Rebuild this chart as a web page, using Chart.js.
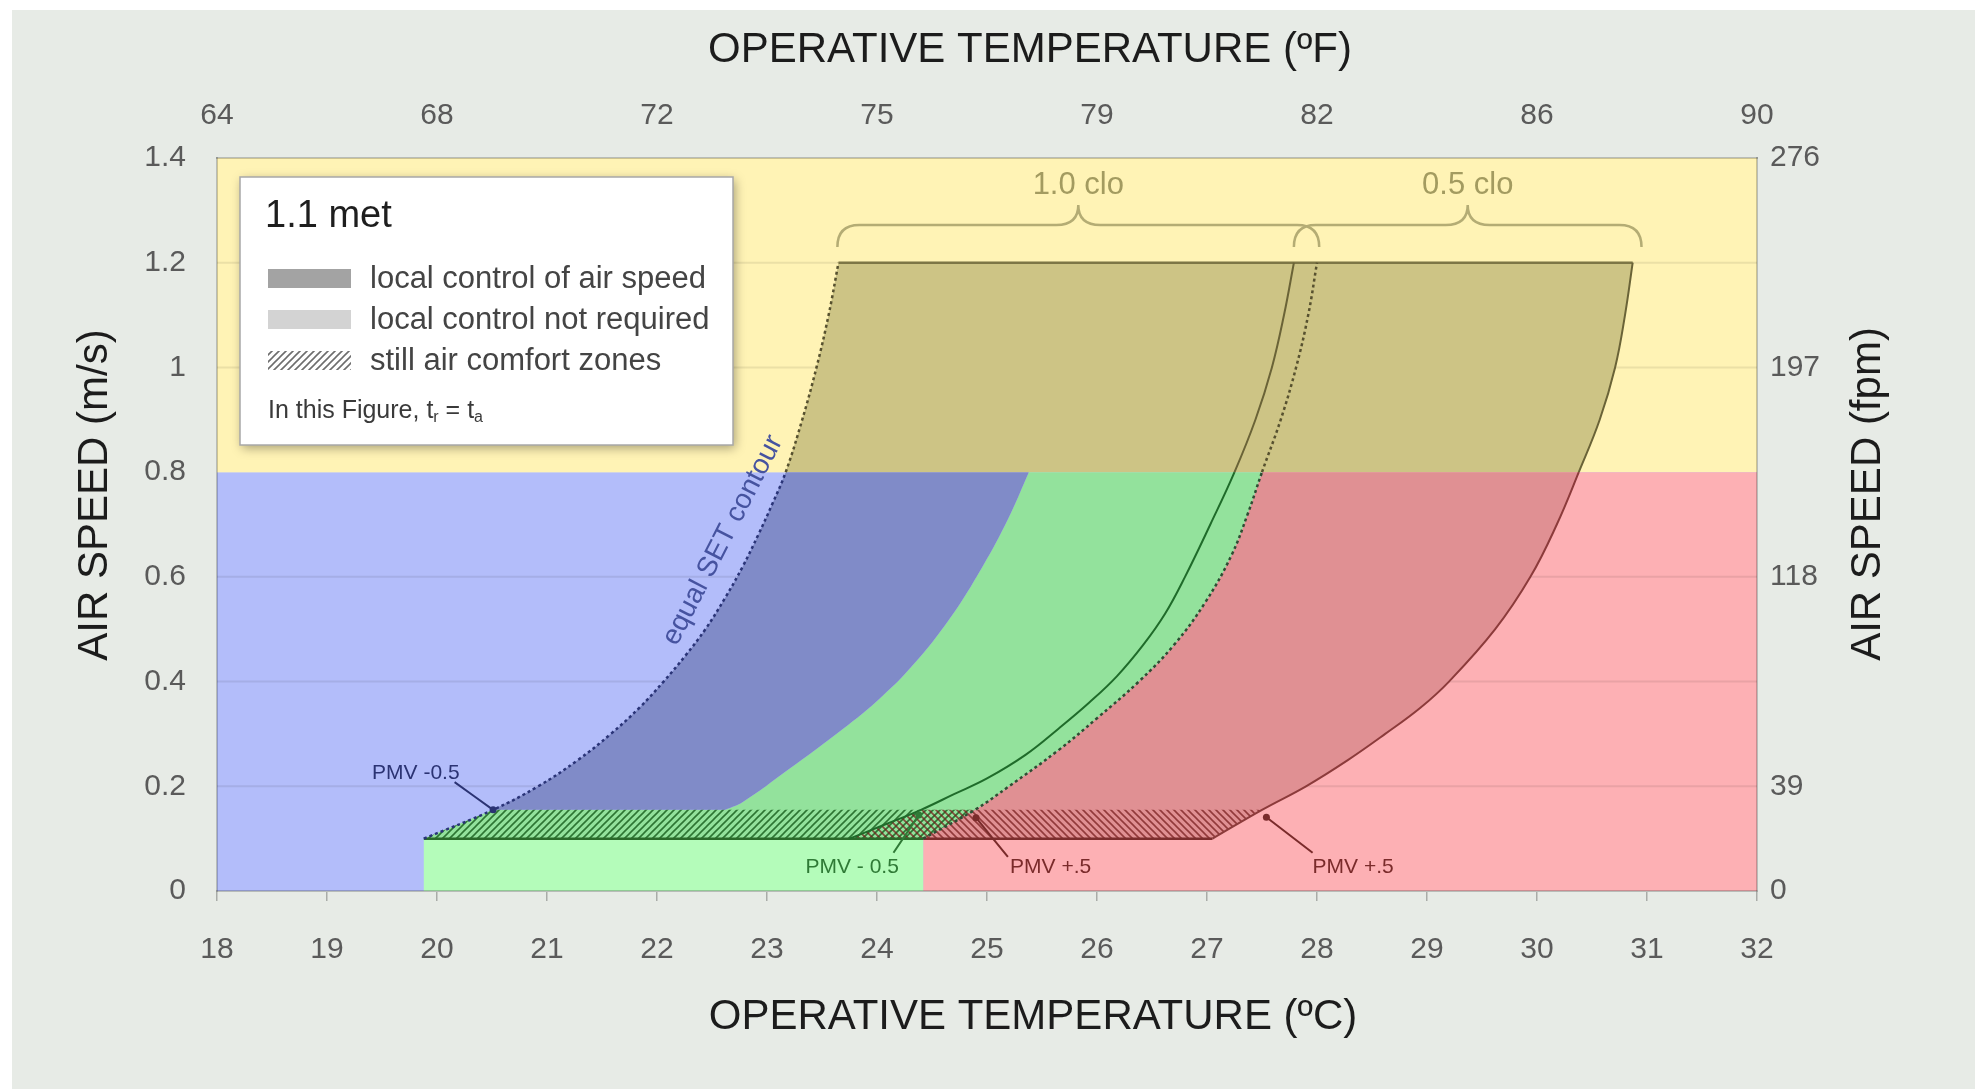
<!DOCTYPE html>
<html lang="en">
<head>
  <meta charset="UTF-8" />
  <title>Air speed comfort zones</title>
  <style>
    html, body { margin: 0; padding: 0; background: #fff; }
    canvas { display: block; }
  </style>
</head>
<body>
  <canvas id="chart" width="1982" height="1089"></canvas>

  <script src="https://cdn.jsdelivr.net/npm/chart.js"></script>
  <script>
    const FONT = "'Liberation Sans', Arial, Helvetica, sans-serif";
    Chart.defaults.font.family = FONT;

    // axes
    const tMin = 18, tMax = 32, vMax = 1.4;
    const tempTicksC = [18, 19, 20, 21, 22, 23, 24, 25, 26, 27, 28, 29, 30, 31, 32];
    const tempTicksF = [64, 68, 72, 75, 79, 82, 86, 90];
    const tempTicksFAtC = [18, 20, 22, 24, 26, 28, 30, 32];
    const speedTicks = [0, 0.2, 0.4, 0.6, 0.8, 1, 1.2, 1.4];
    const fpmTicks = [0, 39, 118, 197, 276];
    const fpmTicksAt = [0, 0.2, 0.6, 1, 1.4];
    const gridAt = [0.2, 0.4, 0.6, 1, 1.2];

    // air speed levels (m/s)
    const yellowFrom = 0.8;
    const stillLow = 0.1, stillTop = 0.155, maxAir = 1.2;

    // curves [temp ºC, air speed m/s]
    // 1.0 clo cool edge = equal SET contour
    const coolA = [[19.88, 0.1], [20.51, 0.155], [20.92, 0.2], [21.28, 0.25], [21.58, 0.3], [21.84, 0.35],
      [22.06, 0.4], [22.26, 0.45], [22.44, 0.5], [22.62, 0.56], [22.78, 0.62], [22.92, 0.68], [23.05, 0.74],
      [23.17, 0.8], [23.32, 0.9], [23.45, 1.0], [23.56, 1.1], [23.65, 1.2]];
    // PMV -0.5 line at 1.0 clo with elevated air speed (blue / green edge)
    const pmvEdge = [[22.62, 0.155], [22.78, 0.17], [23.2, 0.233], [23.63, 0.3], [24.0, 0.363], [24.32, 0.43],
      [24.66, 0.52], [24.96, 0.62], [25.19, 0.71], [25.38, 0.8]];
    // 0.5 clo cool edge
    const coolB = [[23.75, 0.1], [24.05, 0.125], [24.4, 0.155], [24.7, 0.185], [25.0, 0.215], [25.35, 0.26],
      [25.65, 0.31], [25.93, 0.36], [26.18, 0.41], [26.42, 0.47], [26.62, 0.53], [26.8, 0.6], [27.03, 0.7],
      [27.25, 0.8], [27.44, 0.9], [27.59, 1.0], [27.7, 1.1], [27.79, 1.2]];
    // 1.0 clo warm edge
    const warmC = [[24.42, 0.1], [24.89, 0.155], [25.2, 0.2], [25.65, 0.269], [26.0, 0.33], [26.38, 0.4],
      [26.7, 0.47], [26.98, 0.55], [27.22, 0.64], [27.37, 0.72], [27.5, 0.8], [27.67, 0.9], [27.81, 1.0],
      [27.92, 1.1], [28.0, 1.2]];
    // 0.5 clo warm edge
    const warmD = [[27.05, 0.1], [27.5, 0.155], [27.9, 0.2], [28.28, 0.25], [28.62, 0.3], [28.94, 0.35],
      [29.2, 0.4], [29.62, 0.5], [29.94, 0.6], [30.18, 0.7], [30.38, 0.8], [30.57, 0.9], [30.71, 1.0],
      [30.8, 1.1], [30.87, 1.2]];

    // notes
    const cloBraces = [
      { text: '1.0 clo', from: 23.64, to: 28.02 },
      { text: '0.5 clo', from: 27.79, to: 30.95 }
    ];
    const braceAt = 1.272, cloLabelAt = 1.348;
    const pmvNotes = [
      { text: 'PMV -0.5', at: [19.41, 0.225], from: [20.16, 0.208], to: [20.51, 0.155], color: '#2b3373' },
      { text: 'PMV - 0.5', at: [23.35, 0.046], from: [24.15, 0.073], to: [24.38, 0.145], color: '#2f7a36' },
      { text: 'PMV +.5', at: [25.21, 0.046], from: [25.19, 0.065], to: [24.9, 0.14], color: '#7a2b2b' },
      { text: 'PMV +.5', at: [27.96, 0.046], from: [27.96, 0.073], to: [27.54, 0.141], color: '#7a2b2b' }
    ];
    const setLabel = { text: 'equal SET contour', at: [22.6, 0.67], angle: -62.8 };

    // helpers
    const seg = (c, lo, hi) => c.filter(p => p[1] >= lo - 1e-9 && p[1] <= hi + 1e-9);
    const rev = a => a.slice().reverse();
    const at = (c, v) => c.find(p => Math.abs(p[1] - v) < 1e-9);
    const xy = arr => arr.map(([x, y]) => ({ x, y }));
    // joins pieces into one outline, doubling the end points so corners stay sharp when smoothed
    const poly = (...pieces) => pieces.flatMap(p => [p[0], ...p, p[p.length - 1]]);

    const ctx = document.getElementById('chart').getContext('2d');

    function hatch(color, slash) {
      const c = document.createElement('canvas');
      c.width = 7; c.height = 7;
      const g = c.getContext('2d');
      g.strokeStyle = color; g.lineWidth = 1.6;
      g.beginPath();
      if (slash) {
        g.moveTo(-1, 8); g.lineTo(8, -1);
        g.moveTo(-1, 1); g.lineTo(1, -1);
        g.moveTo(6, 8); g.lineTo(8, 6);
      } else {
        g.moveTo(-1, -1); g.lineTo(8, 8);
        g.moveTo(6, -1); g.lineTo(8, 1);
        g.moveTo(-1, 6); g.lineTo(1, 8);
      }
      g.stroke();
      return ctx.createPattern(c, 'repeat');
    }

    const SMOOTH = 0.4;
    function area(data, color, order) {
      return { data: xy(data), showLine: true, fill: 'shape', backgroundColor: color, tension: SMOOTH,
        borderColor: 'transparent', borderWidth: 0, pointRadius: 0, order };
    }
    function line(data, color, width, dash, order, upper) {
      const d = { data: xy(data), showLine: true, fill: false, borderColor: color, borderWidth: width,
        borderDash: dash || [], pointRadius: 0, tension: SMOOTH, order };
      if (upper) d.segment = { borderColor: s => s.p0.parsed.y >= yellowFrom - 1e-6 ? upper : undefined };
      return d;
    }

    // regions
    const polyYellow = poly([[tMin, yellowFrom], [tMax, yellowFrom]], [[tMax, vMax], [tMin, vMax]]);
    const polyBlue = poly([[tMin, 0], [tMax, 0]], [[tMax, yellowFrom], [tMin, yellowFrom]]);
    const polyGreen = poly([[coolA[0][0], 0], [warmC[0][0], 0]], [warmC[0], coolA[0]]);
    const polyRed = poly([[warmC[0][0], 0], [tMax, 0]], [[tMax, yellowFrom]], rev(seg(warmC, stillLow, yellowFrom)));
    const zoneBlue = poly(seg(coolA, stillTop, yellowFrom), rev(pmvEdge));
    const zoneGreen = poly(seg(coolA, stillLow, stillTop), pmvEdge, rev(seg(warmC, stillLow, yellowFrom)));
    const zoneRed = poly(seg(warmC, stillLow, yellowFrom), rev(seg(warmD, stillLow, yellowFrom)));
    const zoneOlive = poly(seg(coolA, yellowFrom, maxAir), rev(seg(warmD, yellowFrom, maxAir)));
    const still10 = poly([coolA[0], warmC[0]], seg(warmC, stillLow, stillTop), rev(seg(coolA, stillLow, stillTop)));
    const still05 = poly(seg(coolB, stillLow, stillTop), [at(warmD, stillTop), warmD[0]]);

    const datasets = [
      area(polyYellow, '#fff3b5', 100),
      area(polyBlue, '#b3bdfa', 100),
      area(polyGreen, '#b4fcba', 99),
      area(polyRed, '#fdb0b4', 99),
      ...gridAt.map(v => line([[tMin, v], [tMax, v]], 'rgba(0,0,0,0.08)', 2, null, 95)),
      area(zoneBlue, '#808bc8', 90),
      area(zoneGreen, '#93e29c', 90),
      area(zoneRed, '#e09093', 90),
      area(zoneOlive, '#cdc485', 90),
      area(still10, hatch('rgba(20,90,25,0.8)', true), 85),
      area(still05, hatch('rgba(120,30,30,0.75)', false), 84),
      line(coolA, '#2a3478', 2.5, [3, 3], 80, '#57512f'),
      line(coolB, '#1f6b2a', 2, null, 80, '#6a6337'),
      line(warmC, '#2e4d33', 2.5, [3, 3], 80, '#57512f'),
      line(warmD, '#8c3b3b', 2, null, 80, '#6a6337'),
      line([coolA[coolA.length - 1], warmD[warmD.length - 1]], '#7d7646', 2.5, null, 80),
      line([coolA[0], warmC[0]], '#2a6a2a', 2.5, null, 80),
      line([warmC[0], warmD[0]], '#7c2d2d', 2.5, null, 80),
      ...pmvNotes.map(n => Object.assign(line([n.from, n.to], n.color, 2, null, 40),
        { pointRadius: [0, 3.5], pointBackgroundColor: n.color, pointBorderWidth: 0 }))
    ];

    const tickFont = { size: 30 };
    const tickColor = '#5a5a5a';
    const edge = { display: true, color: 'rgba(0,0,0,0.2)', width: 2, z: 1 };

    function text(c, s, x, y, font, color, align) {
      c.font = font; c.fillStyle = color; c.textAlign = align || 'left'; c.textBaseline = 'middle';
      c.fillText(s, x, y);
    }

    const overlay = {
      id: 'overlay',
      beforeDraw(chart) {
        const c = chart.ctx;
        c.save();
        c.fillStyle = '#ffffff';
        c.fillRect(0, 0, chart.width, chart.height);
        c.fillStyle = '#e7ebe6';
        c.fillRect(12, 10, 1963, chart.height - 10);
        c.restore();
      },
      afterDatasetsDraw(chart) {
        const c = chart.ctx, sx = chart.scales.x, sy = chart.scales.y, a = chart.chartArea;
        const px = v => sx.getPixelForValue(v), py = v => sy.getPixelForValue(v);
        c.save();

        // clo braces
        c.strokeStyle = '#b4ac74'; c.lineWidth = 2.5;
        cloBraces.forEach(b => {
          const l = px(b.from), r = px(b.to), m = (l + r) / 2, yb = py(braceAt);
          c.beginPath();
          c.moveTo(l, yb + 22); c.quadraticCurveTo(l, yb, l + 22, yb);
          c.lineTo(m - 22, yb); c.quadraticCurveTo(m, yb, m, yb - 20);
          c.quadraticCurveTo(m, yb, m + 22, yb);
          c.lineTo(r - 22, yb); c.quadraticCurveTo(r, yb, r, yb + 22);
          c.stroke();
          text(c, b.text, m, py(cloLabelAt), `31px ${FONT}`, '#a39b60', 'center');
        });

        // PMV notes
        pmvNotes.forEach(n => text(c, n.text, px(n.at[0]), py(n.at[1]), `21px ${FONT}`, n.color));

        // equal SET contour
        c.save();
        c.translate(px(setLabel.at[0]), py(setLabel.at[1]));
        c.rotate(setLabel.angle * Math.PI / 180);
        text(c, setLabel.text, 0, 0, `28px ${FONT}`, '#4653a0', 'center');
        c.restore();

        // legend box
        const bx = a.left + 23, by = a.top + 19, bw = 493, bh = 268;
        c.save();
        c.shadowColor = 'rgba(0,0,0,0.35)'; c.shadowBlur = 10; c.shadowOffsetX = 2; c.shadowOffsetY = 3;
        c.fillStyle = '#ffffff';
        c.fillRect(bx, by, bw, bh);
        c.restore();
        c.strokeStyle = '#a8a8a8'; c.lineWidth = 1.5;
        c.strokeRect(bx, by, bw, bh);
        text(c, '1.1 met', bx + 25, by + 40, `38px ${FONT}`, '#1e1e1e');
        c.fillStyle = '#a3a3a3'; c.fillRect(bx + 28, by + 92, 83, 19);
        c.fillStyle = '#d3d3d3'; c.fillRect(bx + 28, by + 133, 83, 19);
        c.fillStyle = hatch('#6e6e6e', true); c.fillRect(bx + 28, by + 174, 83, 19);
        const items = ['local control of air speed', 'local control not required', 'still air comfort zones'];
        items.forEach((s, i) => text(c, s, bx + 130, by + 102 + i * 41, `31px ${FONT}`, '#444'));
        let fx = bx + 28;
        const fy = by + 234;
        const parts = [['In this Figure, t', 0], ['r', 1], [' = t', 0], ['a', 1]];
        parts.forEach(([s, sub]) => {
          const f = sub ? `16px ${FONT}` : `25px ${FONT}`;
          text(c, s, fx, fy + (sub ? 7 : 0), f, '#3a3a3a');
          c.font = f; fx += c.measureText(s).width;
        });

        // axis titles
        const tf = `42px ${FONT}`, tc = '#1c1c1c';
        text(c, 'OPERATIVE TEMPERATURE (ºF)', 1030, 50, tf, tc, 'center');
        text(c, 'OPERATIVE TEMPERATURE (ºC)', 1033, 1017, tf, tc, 'center');
        c.save(); c.translate(95, 495); c.rotate(-Math.PI / 2);
        text(c, 'AIR SPEED (m/s)', 0, 0, tf, tc, 'center'); c.restore();
        c.save(); c.translate(1868, 494); c.rotate(-Math.PI / 2);
        text(c, 'AIR SPEED (fpm)', 0, 0, tf, tc, 'center'); c.restore();

        c.restore();
      }
    };

    new Chart(ctx, {
      type: 'scatter',
      data: { datasets },
      plugins: [overlay],
      options: {
        responsive: false,
        animation: false,
        events: [],
        layout: { padding: 0 },
        plugins: { legend: { display: false }, tooltip: { enabled: false } },
        scales: {
          x: {
            type: 'linear', position: 'bottom', min: tMin, max: tMax,
            afterBuildTicks: s => { s.ticks = tempTicksC.map(v => ({ value: v })); },
            ticks: { autoSkip: false, maxRotation: 0, padding: 31, color: tickColor, font: tickFont },
            grid: { drawOnChartArea: false, drawTicks: true, tickLength: 10, color: '#a9aca8', lineWidth: 1.5 },
            border: edge,
            afterFit: s => { s.height = 198; }
          },
          xF: {
            type: 'linear', position: 'top', min: tMin, max: tMax,
            afterBuildTicks: s => { s.ticks = tempTicksFAtC.map(v => ({ value: v })); },
            ticks: { autoSkip: false, maxRotation: 0, padding: 24, color: tickColor, font: tickFont,
              callback: (v, i) => tempTicksF[i] },
            grid: { display: false, drawTicks: false },
            border: edge,
            afterFit: s => { s.height = 158; }
          },
          y: {
            type: 'linear', position: 'left', min: 0, max: vMax,
            afterBuildTicks: s => { s.ticks = speedTicks.map(v => ({ value: v })); },
            ticks: { padding: 31, color: tickColor, font: tickFont, callback: v => String(v) },
            grid: { display: false, drawTicks: false },
            border: edge,
            afterFit: s => { s.width = 217; }
          },
          yF: {
            type: 'linear', position: 'right', min: 0, max: vMax,
            afterBuildTicks: s => { s.ticks = fpmTicksAt.map(v => ({ value: v })); },
            ticks: { padding: 13, color: tickColor, font: tickFont, callback: (v, i) => fpmTicks[i] },
            grid: { display: false, drawTicks: false },
            border: edge,
            afterFit: s => { s.width = 225; }
          }
        }
      }
    });
  </script>
</body>
</html>
